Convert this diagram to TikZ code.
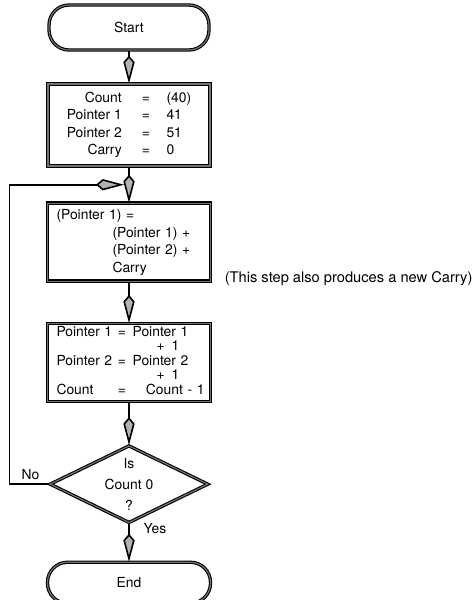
\documentclass[tikz,border=0pt]{standalone}
\usepackage{fontspec}
\setmainfont{TeX Gyre Heros}
\usetikzlibrary{arrows.meta,calc,positioning,shapes.geometric}

\tikzset{
  term/.style={draw, double=black!55, double distance=0.9pt, line width=0.8pt,
    rounded corners=15pt, minimum width=120pt, minimum height=33.75pt},
  procbox/.style={draw, double=black!55, double distance=1pt, line width=0.9pt,
    inner ysep=0pt, inner xsep=6.75pt, align=left},
  decision/.style={diamond, draw, double=black!55, double distance=0.9pt, line width=0.8pt,
    inner sep=0pt, minimum width=118.5pt, minimum height=57.75pt},
  flow/.style={line width=1.2pt, -{Kite[length=21pt,width=8.5pt,inset=5pt,fill=gray!60]}},
}

\begin{document}
\begin{tikzpicture}[x=0.75pt, y=-0.75pt, font=\fontsize{10.4}{13}\selectfont]
  \useasboundingbox (0,0) rectangle (473,600);

  % terminal at the top
  \node[term] (start) at (129,27.5) {Start};

  % set up the counters
  \node[procbox, below=24.75pt of start, minimum width=121.5pt, minimum height=61.5pt] (init)
    {\begin{tabular}{@{}r@{\hspace{15pt}}c@{\hspace{12.5pt}}l@{}}
       Count & = & (40)\\
       Pointer 1 & = & 41\\
       Pointer 2 & = & 51\\
       Carry & = & 0
     \end{tabular}};

  % add with carry
  \node[procbox, below=27pt of init, minimum width=122.25pt, minimum height=58.5pt,
        text width=108.75pt, font=\fontsize{10.4}{13.3}\selectfont] (addc)
    {\begin{tabular}{@{}p{42pt}@{}l@{}}
       \multicolumn{2}{@{}l@{}}{(Pointer 1) =}\\
       & (Pointer 1) +\\
       & (Pointer 2) +\\
       & Carry
     \end{tabular}};
  \node[anchor=west, font=\fontsize{11}{13}\selectfont] (note)
    at ([xshift=6.75pt,yshift=2.25pt]addc.south east) {(This step also produces a new Carry)};

  % step the pointers
  \node[procbox, below=30.75pt of addc, minimum width=122.25pt, minimum height=58.5pt,
        text width=108.75pt, font=\fontsize{10.4}{10.7}\selectfont] (incr)
    {\begin{tabular}{@{}p{46pt}@{}c@{\hspace{5pt}}l@{}}
       Pointer 1 & = & Pointer 1\\
       \multicolumn{3}{@{}l@{}}{\hspace{75pt}+\enspace1}\\
       Pointer 2 & = & Pointer 2\\
       \multicolumn{3}{@{}l@{}}{\hspace{75pt}+\enspace1}\\
       Count & = & \hspace{10pt}Count - 1
     \end{tabular}};

  % test
  \node[decision, below=32.25pt of incr] (dec) {};
  \node[align=center, font=\fontsize{10.4}{15.75}\selectfont] (dtext) at (dec.center) {Is\\Count 0\\?};

  \node[term, below=28.9pt of dec, minimum width=122.25pt, minimum height=30.75pt] (stop) {End};

  \node (nolbl) at ($(dec.west)+(-19,-10)$) {No};
  \node (yeslbl) at ($(dec.south)+(26,5)$) {Yes};

  % connectors
  \coordinate (join) at ($(init.south)!0.5!(addc.north)+(-5,0)$);
  \draw[flow] (start) -- (init);
  \draw[flow] (init) -- (addc);
  \draw[flow] (addc) -- (incr);
  \draw[flow] (incr) -- (dec);
  \draw[flow] (dec) -- (stop);
  \draw[flow] (dec.west) -- ++(-40,0) |- (join);
\end{tikzpicture}
\end{document}
